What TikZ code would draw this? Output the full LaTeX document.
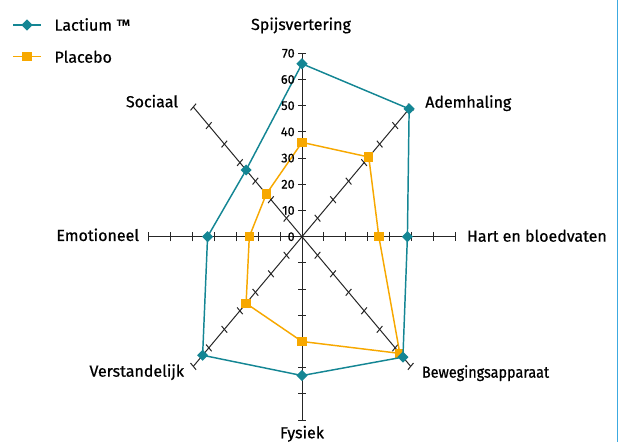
\documentclass[tikz,border=0pt]{standalone}
\usepackage{fontspec}
\setmainfont{Fira Sans}[FakeBold=0.7]
\usetikzlibrary{shapes.geometric}
\definecolor{lactium}{RGB}{20,134,148}
\definecolor{placebo}{RGB}{247,168,0}
\definecolor{frameblue}{RGB}{60,170,225}
\begin{document}
\begin{tikzpicture}[x=0.75pt, y=0.75pt,
  axislabel/.style={font=\fontsize{12}{14}\selectfont, inner sep=0pt},
  ticklabel/.style={font=\fontsize{9.5}{10}\selectfont, inner sep=0pt, anchor=east},
  axisline/.style={draw=black!85, line width=0.75pt},
  lactiumline/.style={draw=lactium, line width=1.1pt},
  placeboline/.style={draw=placebo, line width=1.1pt},
  lmark/.style={diamond, fill=lactium, inner sep=0pt, minimum size=8.5pt},
  pmark/.style={rectangle, fill=placebo, inner sep=0pt, minimum size=7pt}]
  \useasboundingbox (0,0) rectangle (619,442);

  % radar chart, one unit = one score point
  \begin{scope}[shift={(302,205.3)}, x=1.647pt, y=1.965pt]
    \foreach \a in {0,45,...,315}
      \draw[axisline] (0,0) -- (\a:70);
    \foreach \a in {0,45,...,315}
      \foreach \r in {10,20,...,70}
        \draw[axisline, shift={(\a:\r)}] (\a+90:1.8) -- (\a-90:1.8);

    % placebo
    \foreach \a/\v [count=\i] in {0/35,45/43,90/36,135/23,180/24,225/36,270/40,315/63}
      \coordinate (P\i) at (\a:\v);
    \draw[placeboline] (P1) -- (P2) -- (P3) -- (P4) -- (P5) -- (P6) -- (P7) -- (P8) -- cycle;
    \foreach \i in {1,...,8}
      \node[pmark] (pm\i) at (P\i) {};

    % lactium
    \foreach \a/\v [count=\i] in {0/48,45/69,90/66,135/36,180/43,225/64,270/53,315/65}
      \coordinate (L\i) at (\a:\v);
    \draw[lactiumline] (L1) -- (L2) -- (L3) -- (L4) -- (L5) -- (L6) -- (L7) -- (L8) -- cycle;
    \foreach \i in {1,...,8}
      \node[lmark] (lm\i) at (L\i) {};

    \foreach \v in {0,10,...,70}
      \node[ticklabel] (t\v) at (-3.2,\v) {\v};
  \end{scope}

  % axis names
  \node[axislabel, anchor=base] (spijs) at (301,412) {Spijsvertering};
  \node[axislabel, anchor=base west] (adem) at (425,334.3) {Ademhaling};
  \node[axislabel, anchor=base west] (hart) at (466.7,200.3) {Hart en bloedvaten};
  \node[axislabel, anchor=base west, xscale=0.9] (beweg) at (421.7,64.3) {Bewegingsapparaat};
  \node[axislabel, anchor=base] (fysiek) at (302,3.7) {Fysiek};
  \node[axislabel, anchor=base east] (verst) at (184.3,65.3) {Verstandelijk};
  \node[axislabel, anchor=base east] (emot) at (139.3,201) {Emotioneel};
  \node[axislabel, anchor=base east] (sociaal) at (178.3,334.7) {Sociaal};

  % legend
  \coordinate (la) at (13,417);
  \coordinate (lb) at (41,417);
  \coordinate (pa) at (13,385.3);
  \coordinate (pb) at (41,385.3);
  \draw[lactiumline] (la) -- (lb);
  \node[lmark] (lleg) at (27,417) {};
  \draw[placeboline] (pa) -- (pb);
  \node[pmark] (pleg) at (27,385.3) {};
  \node[axislabel, anchor=base west] (ltext) at (54.3,411.3) {Lactium ™};
  \node[axislabel, anchor=base west] (ptext) at (54.3,379.3) {Placebo};

  \draw[frameblue, line width=1pt] (617.5,0) -- (617.5,442);
\end{tikzpicture}
\end{document}
